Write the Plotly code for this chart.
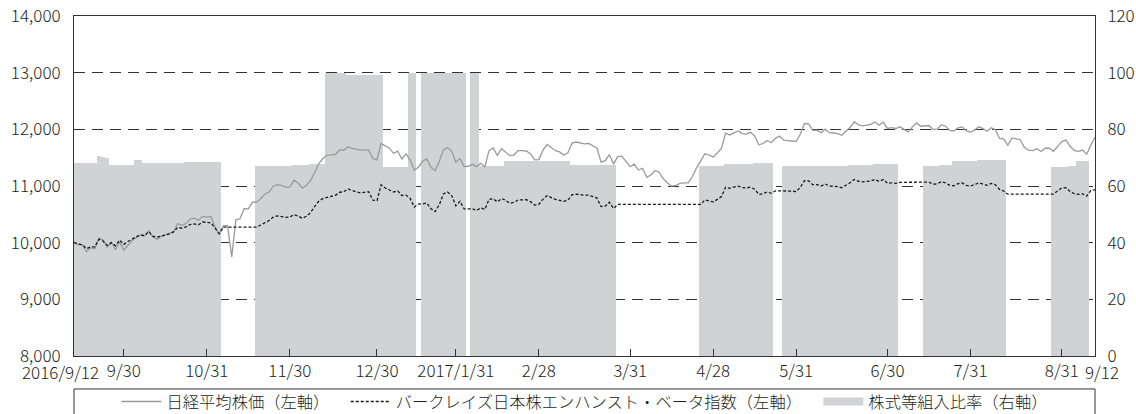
import pandas as pd
import plotly.graph_objects as go

# ---- categories: Tokyo trading days 2016/9/12 - 2017/9/12 ----
holidays = ["2016-09-19", "2016-09-22", "2016-10-10", "2016-11-03", "2016-11-23",
            "2016-12-23", "2017-01-02", "2017-01-03", "2017-01-09", "2017-03-20",
            "2017-05-03", "2017-05-04", "2017-05-05", "2017-07-17", "2017-08-11"]
dates = [d.strftime("%Y-%m-%d") for d in
         pd.bdate_range("2016-09-12", "2017-09-12", freq="C", holidays=holidays)]

# ---- series (left axis) ----
nikkei = [
    10000, 9964, 9965, 9839, 9908, 9892, 10081, 10049, 9923, 10007,
    9876, 10012, 9866, 9955, 10038, 10088, 10136, 10112, 10211, 10100,
    10061, 10110, 10136, 10174, 10196, 10337, 10307, 10337, 10415, 10431,
    10398, 10464, 10451, 10462, 10277, 10139, 10302, 10299, 9747, 10403,
    10421, 10600, 10597, 10713, 10714, 10776, 10860, 10894, 10996, 11025,
    11010, 10980, 10981, 11104, 11052, 10961, 11012, 11094, 11255, 11394,
    11489, 11546, 11548, 11560, 11636, 11631, 11692, 11662, 11652, 11634,
    11638, 11637, 11483, 11464, 11752, 11708, 11668, 11577, 11614, 11477,
    11568, 11453, 11284, 11332, 11439, 11478, 11330, 11269, 11430, 11637,
    11676, 11617, 11421, 11485, 11344, 11347, 11382, 11342, 11400, 11340,
    11623, 11671, 11539, 11658, 11604, 11536, 11546, 11624, 11623, 11618,
    11566, 11460, 11467, 11632, 11734, 11677, 11623, 11602, 11548, 11587,
    11758, 11776, 11761, 11742, 11750, 11709, 11669, 11421, 11447, 11553,
    11387, 11517, 11526, 11434, 11341, 11386, 11282, 11313, 11154, 11195,
    11274, 11244, 11127, 11052, 10997, 11009, 11047, 11055, 11054, 11168,
    11321, 11443, 11569, 11547, 11514, 11582, 11663, 11933, 11901, 11936,
    11972, 11926, 11917, 11947, 11884, 11728, 11750, 11803, 11764, 11841,
    11883, 11808, 11805, 11802, 11786, 11912, 12102, 12098, 11983, 11986,
    11941, 12003, 11941, 11935, 11926, 11895, 11961, 12036, 12134, 12079,
    12062, 12075, 12088, 12131, 12074, 12128, 12016, 12029, 12015, 12044,
    11992, 11953, 12044, 12113, 12055, 12056, 12067, 11996, 12008, 12082,
    12055, 11981, 11969, 12026, 12043, 11971, 11951, 11987, 12044, 12013,
    11967, 12029, 11993, 11839, 11833, 11718, 11848, 11833, 11817, 11678,
    11632, 11626, 11656, 11608, 11667, 11666, 11613, 11700, 11783, 11810,
    11701, 11627, 11610, 11634, 11561, 11723, 11862,
]

barclays = [
    10000, 9985, 9960, 9895, 9925, 9925, 10060, 10030, 9950, 10000,
    9945, 10045, 9970, 10020, 10065, 10105, 10135, 10125, 10195, 10115,
    10095, 10120, 10135, 10155, 10190, 10270, 10255, 10280, 10320, 10330,
    10315, 10365, 10355, 10350, 10255, 10160, 10275, 10275, 10275, 10275,
    10275, 10275, 10275, 10275, 10275, 10312, 10350, 10390, 10450, 10472,
    10460, 10448, 10450, 10495, 10470, 10430, 10465, 10530, 10640, 10735,
    10780, 10800, 10810, 10835, 10890, 10898, 10948, 10915, 10895, 10880,
    10885, 10900, 10750, 10740, 11020, 10965, 10930, 10893, 10913, 10832,
    10840, 10780, 10628, 10680, 10685, 10700, 10600, 10548, 10667, 10860,
    10894, 10830, 10650, 10730, 10597, 10598, 10598, 10568, 10616, 10588,
    10765, 10775, 10718, 10779, 10747, 10696, 10711, 10753, 10760, 10758,
    10724, 10663, 10674, 10768, 10830, 10797, 10765, 10747, 10730, 10748,
    10846, 10855, 10841, 10838, 10838, 10816, 10788, 10636, 10645, 10714,
    10602, 10675, 10675, 10675, 10675, 10675, 10675, 10675, 10675, 10675,
    10675, 10675, 10675, 10675, 10675, 10675, 10675, 10675, 10675, 10675,
    10675, 10675, 10754, 10740, 10720, 10763, 10813, 10978, 10960, 10980,
    10998, 10972, 10966, 10980, 10942, 10852, 10865, 10895, 10872, 10915,
    10915, 10915, 10912, 10910, 10900, 10978, 11095, 11092, 11024, 11026,
    11000, 11036, 11000, 10996, 10990, 10970, 11010, 11056, 11115, 11083,
    11074, 11081, 11089, 11115, 11081, 11113, 11048, 11055, 11047, 11065,
    11065, 11065, 11065, 11065, 11065, 11065, 11068, 11030, 11038, 11078,
    11055, 11012, 11004, 11040, 11052, 11010, 10998, 11025, 11055, 11035,
    11012, 11045, 11022, 10940, 10912, 10855, 10855, 10855, 10855, 10855,
    10855, 10855, 10855, 10855, 10855, 10855, 10855, 10915, 10965, 10970,
    10904, 10864, 10852, 10862, 10820, 10922, 10930,
]

# ---- series (right axis, %) ----
ratio = [
    68.0, 68.0, 68.0, 68.0, 68.0, 68.0, 70.6, 70.4, 70.0, 67.4,
    67.4, 67.4, 67.4, 67.4, 67.4, 69.2, 69.2, 68.0, 68.0, 68.0,
    68.0, 68.0, 68.0, 68.0, 68.0, 68.0, 68.0, 68.6, 68.6, 68.6,
    68.6, 68.6, 68.6, 68.6, 68.6, 68.6, 0, 0, 0, 0,
    0, 0, 0, 0, 66.9, 66.9, 66.9, 66.9, 67.2, 67.2,
    67.2, 67.2, 67.2, 67.5, 67.5, 67.5, 67.5, 67.9, 67.9, 67.9,
    67.9, 100, 100, 100, 100, 100, 99.3, 99.3, 99.3, 99.3,
    99.3, 99.3, 99.3, 99.3, 99.3, 66.7, 66.7, 66.7, 66.7, 66.7,
    66.7, 100, 100, 0, 99.8, 99.8, 99.8, 99.8, 99.8, 99.8,
    99.8, 99.8, 99.8, 99.8, 99.8, 0, 99.8, 99.8, 67.0, 67.0,
    67.0, 67.0, 67.0, 67.0, 68.8, 68.8, 68.8, 68.8, 68.8, 68.8,
    68.8, 68.8, 68.8, 68.8, 69.0, 69.0, 68.7, 68.7, 68.7, 68.7,
    67.3, 67.3, 67.3, 67.3, 67.3, 67.3, 67.3, 67.3, 67.3, 67.3,
    67.3, 0, 0, 0, 0, 0, 0, 0, 0, 0,
    0, 0, 0, 0, 0, 0, 0, 0, 0, 0,
    0, 67.1, 67.1, 67.1, 67.1, 67.1, 67.1, 67.7, 67.7, 67.7,
    67.7, 67.7, 67.7, 67.7, 68.1, 68.1, 68.1, 68.1, 68.1, 0,
    0, 66.9, 66.9, 66.9, 66.9, 66.9, 66.9, 67.1, 67.1, 67.1,
    67.1, 67.1, 67.1, 67.1, 67.1, 67.1, 67.1, 67.3, 67.3, 67.3,
    67.3, 67.3, 67.3, 67.6, 67.6, 67.6, 67.6, 67.6, 67.6, 0,
    0, 0, 0, 0, 0, 66.9, 66.9, 66.9, 66.9, 67.3,
    67.3, 67.3, 68.8, 68.8, 68.8, 68.8, 68.8, 68.8, 69.2, 69.2,
    69.2, 69.2, 69.2, 69.2, 69.2, 0, 0, 0, 0, 0,
    0, 0, 0, 0, 0, 0, 66.8, 66.8, 66.8, 66.8,
    67.1, 67.1, 68.7, 68.7, 68.7, 0, 0,
]

assert len(dates) == len(nikkei) == len(barclays) == len(ratio), (
    len(dates), len(nikkei), len(barclays), len(ratio))

# ---- tick labels ----
tick_dates = ["2016-09-30", "2016-10-31", "2016-11-30", "2016-12-30",
              "2017-01-31", "2017-02-28", "2017-03-31", "2017-04-28", "2017-05-31",
              "2017-06-30", "2017-07-31", "2017-08-31"]
tick_text = ["9/30", "10/31", "11/30", "12/30",
             "2017/1/31", "2/28", "3/31", "4/28", "5/31",
             "6/30", "7/31", "8/31"]
end_labels = ["2016/9/12", "9/12"]

names = ["日経平均株価（左軸）",
         "バークレイズ日本株エンハンスト・ベータ指数（左軸）",
         "株式等組入比率（右軸）"]

FONT = "Noto Sans CJK JP"
TXT = "#231f20"
AX = "#333333"
BAR = "#d1d2d4"
GAP = "\u3000\u2009"
W = 300

fig = go.Figure()
fig.add_trace(go.Bar(x=dates, y=ratio, yaxis="y", marker=dict(color=BAR, line=dict(width=0)),
                     showlegend=False, hoverinfo="skip"))
fig.add_trace(go.Scatter(x=dates, y=nikkei, yaxis="y2", mode="lines",
                         line=dict(color="#9a9a9a", width=1.3), name=names[0] + GAP))
fig.add_trace(go.Scatter(x=dates, y=barclays, yaxis="y2", mode="lines",
                         line=dict(color="#1a1a1a", width=1.3, dash="3px,2px"),
                         name=names[1] + GAP))
fig.add_trace(go.Scatter(x=[None], y=[None], yaxis="y", mode="lines",
                         line=dict(color=BAR, width=8), name=names[2]))

tf = dict(size=17, color=TXT, family=FONT, weight=W)

fig.update_layout(
    width=1136, height=414, autosize=False,
    margin=dict(l=74, r=41, t=16, b=58, autoexpand=False),
    paper_bgcolor="white", plot_bgcolor="white",
    font=dict(family=FONT, size=17, color=TXT, weight=W),
    bargap=0, barmode="overlay",
    xaxis=dict(type="category", range=[0, len(dates) - 1], automargin=False,
               tickmode="array", tickvals=tick_dates, ticktext=tick_text, tickangle=0,
               ticks="inside", ticklen=7, tickcolor=AX, tickwidth=1,
               ticklabelstandoff=0,
               showline=True, mirror=True, linecolor=AX, linewidth=1,
               showgrid=False, zeroline=False, tickfont=tf),
    yaxis=dict(range=[0, 120], dtick=20, side="right", showline=True, linecolor=AX,
               linewidth=1, showgrid=False, zeroline=False, ticks="", automargin=False,
               ticklabelstandoff=8, tickfont=tf),
    yaxis2=dict(range=[8000, 14000], dtick=1000, tickformat=",d", side="left",
                overlaying="y", showline=True, linecolor=AX, linewidth=1,
                showgrid=True, gridcolor=AX, gridwidth=1, griddash="11px,7px",
                zeroline=False, ticks="", ticklabelstandoff=9, automargin=False,
                tickfont=tf),
    legend=dict(orientation="h", x=0.5, xanchor="center", y=-0.135, yanchor="middle",
                font=dict(size=16.3, color=TXT, family=FONT, weight=W),
                bgcolor="rgba(0,0,0,0)", itemwidth=40, traceorder="normal"),
    shapes=[dict(type="rect", xref="paper", yref="paper", x0=0, x1=1, y0=-0.097, y1=-0.4,
                 line=dict(color=AX, width=1), fillcolor="rgba(0,0,0,0)", layer="below")],
    annotations=[
        dict(text=end_labels[0], xref="paper", yref="paper", x=-0.0137, y=0,
             xanchor="center", yanchor="top", yshift=-1, showarrow=False, font=tf),
        dict(text=end_labels[1], xref="paper", yref="paper", x=1.0069, y=0,
             xanchor="center", yanchor="top", yshift=-1, showarrow=False, font=tf),
    ],
)

fig.write_html("out.html",
               config={"displayModeBar": False},
               post_script="document.body.style.margin='0';"
                           "document.body.style.overflow='hidden';")
